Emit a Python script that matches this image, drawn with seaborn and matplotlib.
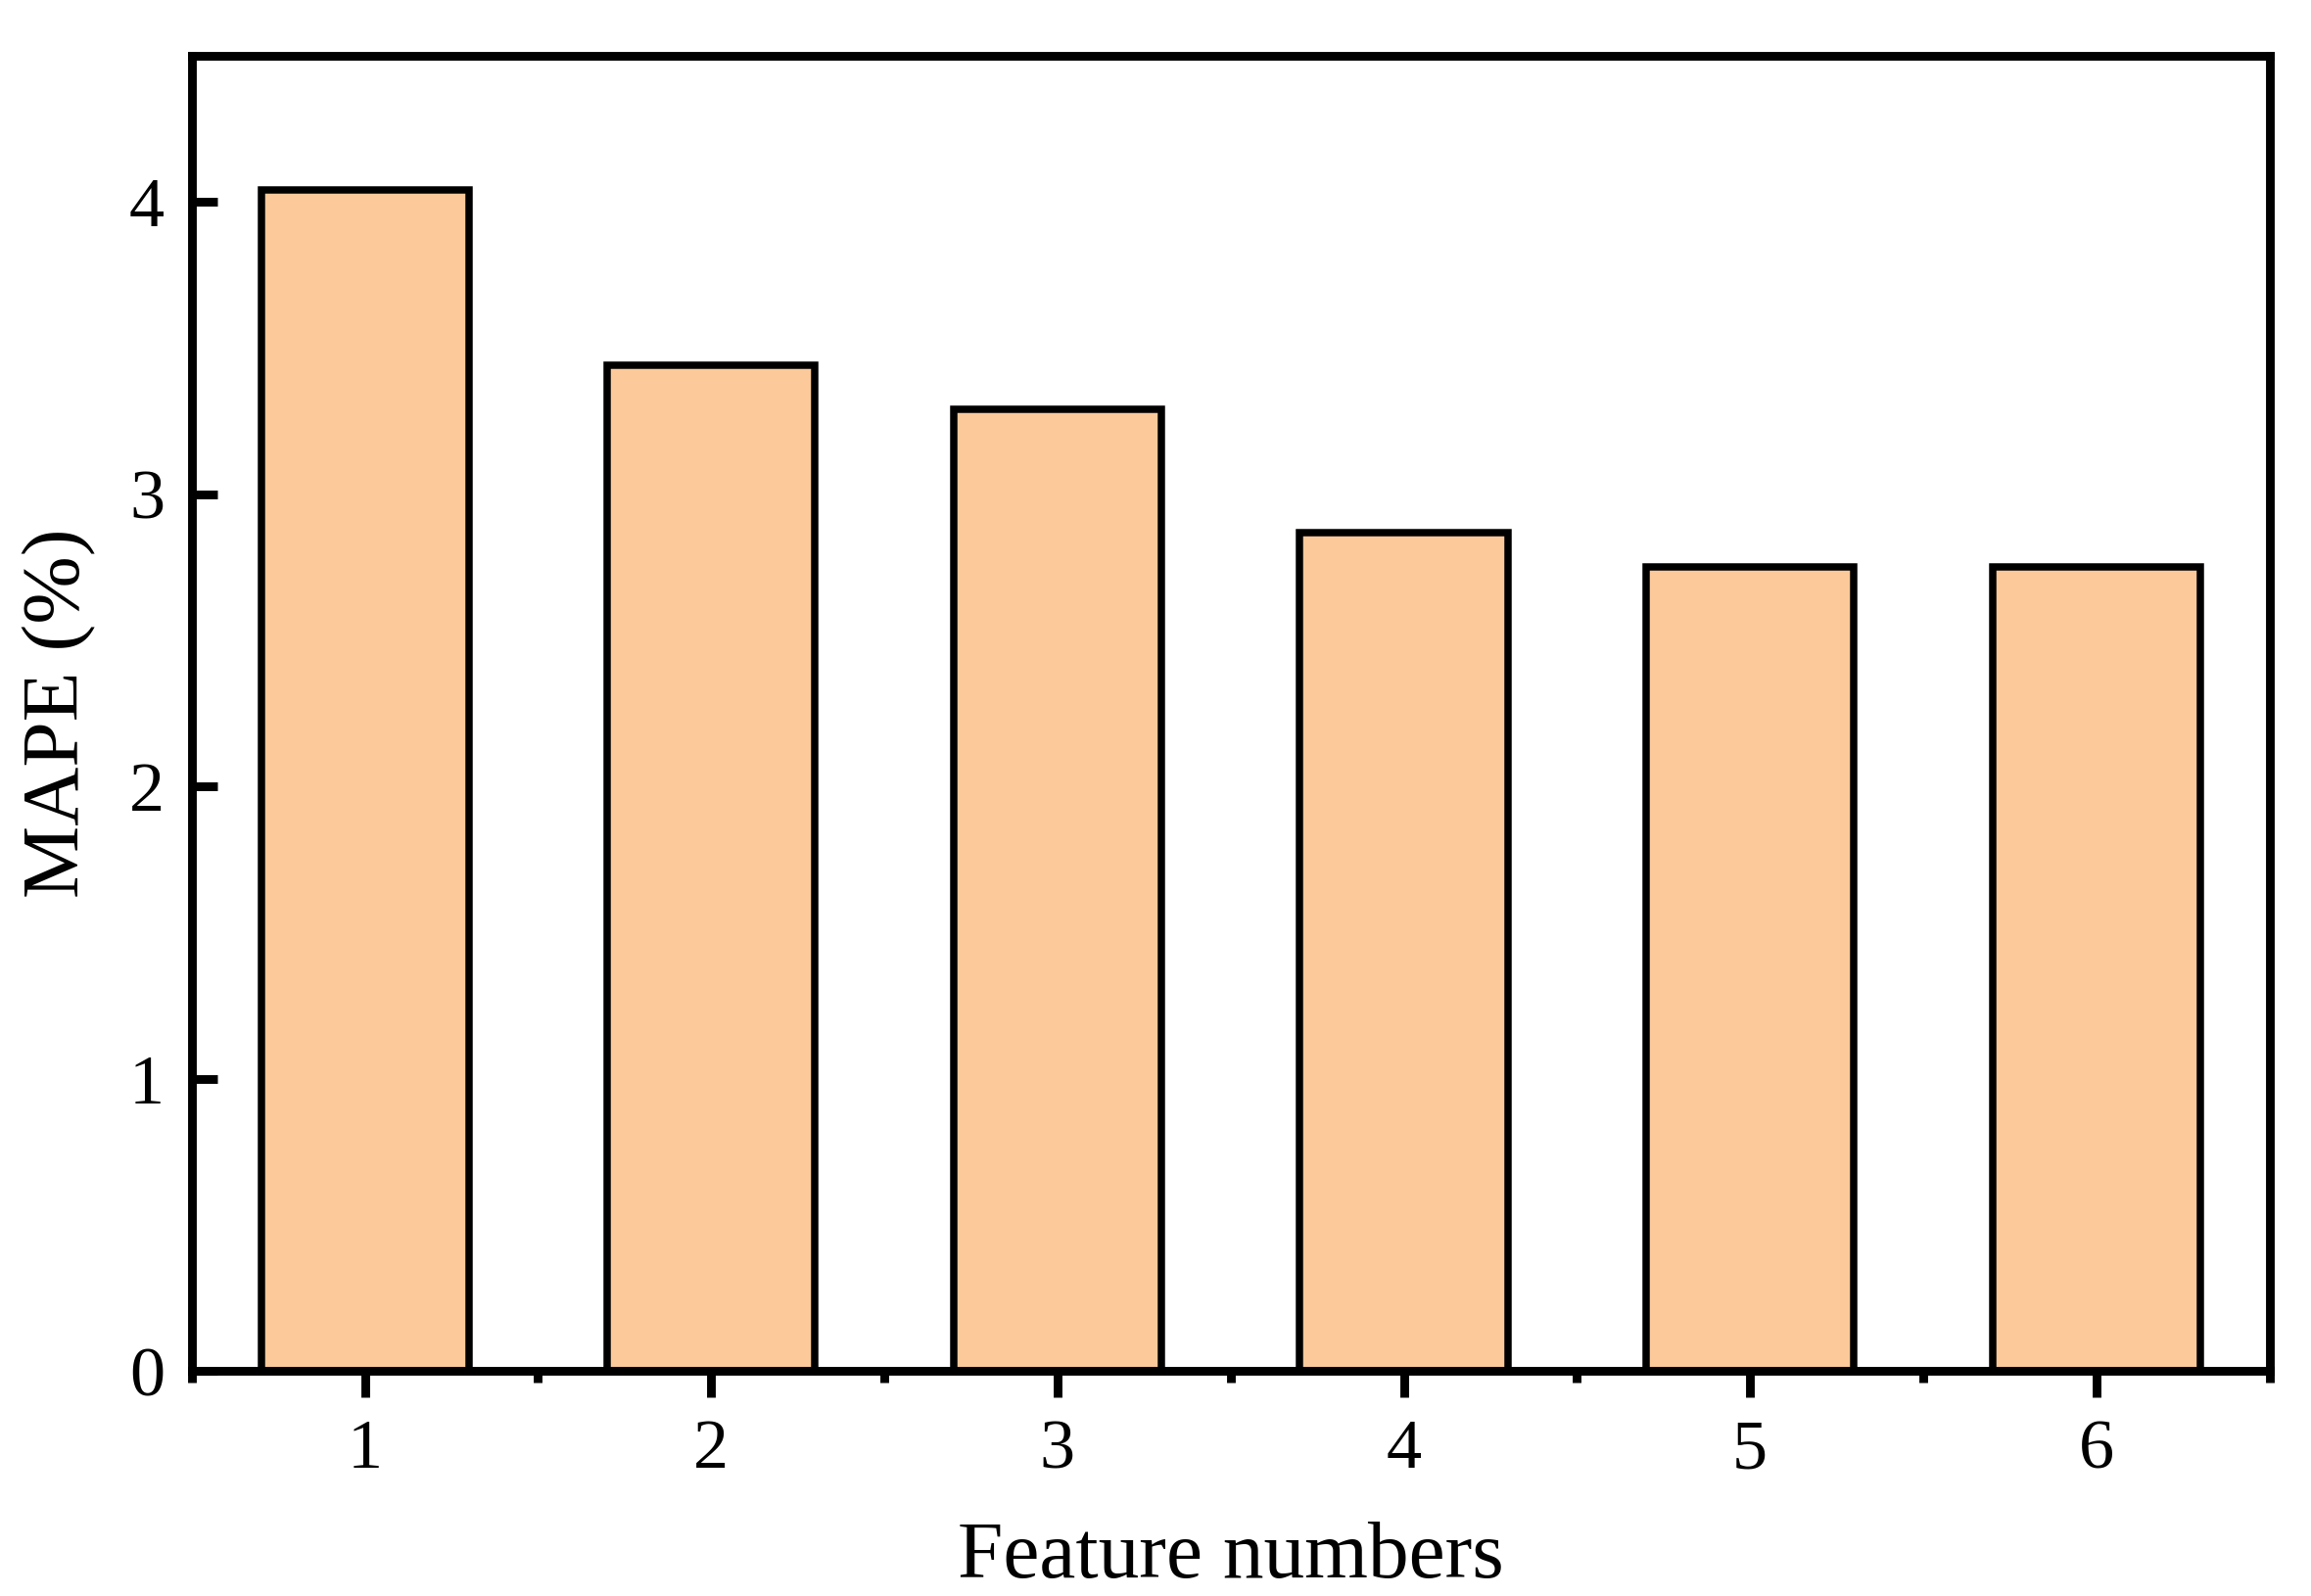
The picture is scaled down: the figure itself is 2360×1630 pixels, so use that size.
import numpy as np
import pandas as pd
import matplotlib
matplotlib.use("Agg")
import matplotlib.pyplot as plt
import seaborn as sns
from matplotlib.ticker import FixedLocator

features = ["1", "2", "3", "4", "5", "6"]
mape = [4.04, 3.44, 3.29, 2.87, 2.75, 2.75]
yticks = [0, 1, 2, 3, 4]

BAR = "#FBC99A"

sns.set_theme(style="ticks")
plt.rcParams["font.family"] = ["Liberation Serif", "DejaVu Serif"]

df = pd.DataFrame({"feat": features, "mape": mape})

fig, ax = plt.subplots(figsize=(11.8, 8.15), dpi=200)
fig.subplots_adjust(left=0.083, right=0.982, top=0.965, bottom=0.141)

sns.barplot(data=df, x="feat", y="mape", color=BAR, saturation=1,
            edgecolor="black", linewidth=2.7, width=0.6, ax=ax)

ax.set_xlim(-0.5, 5.5)
ax.set_ylim(0, 4.5)
ax.set_yticks(yticks)
# minor ticks sit at bar-group boundaries, including the axis ends
ax.xaxis.set_minor_locator(FixedLocator(np.arange(-0.5, 6.0, 1.0)))

for s in ax.spines.values():
    s.set_linewidth(3.2)
    s.set_color("black")

ax.tick_params(axis="x", which="major", direction="out", length=9.7, width=3.2,
               labelsize=26, pad=8, color="black", labelcolor="black")
ax.tick_params(axis="x", which="minor", direction="out", length=4.2, width=3.2,
               color="black")
ax.tick_params(axis="y", which="major", direction="in", length=9.5, width=3.2,
               labelsize=26, pad=10, color="black", labelcolor="black")

ax.set_xlabel("Feature numbers", fontsize=30, labelpad=14, color="black")
ax.set_ylabel("MAPE (%)", fontsize=30, labelpad=12, color="black")

fig.savefig("out.png", dpi=200, facecolor="white")
